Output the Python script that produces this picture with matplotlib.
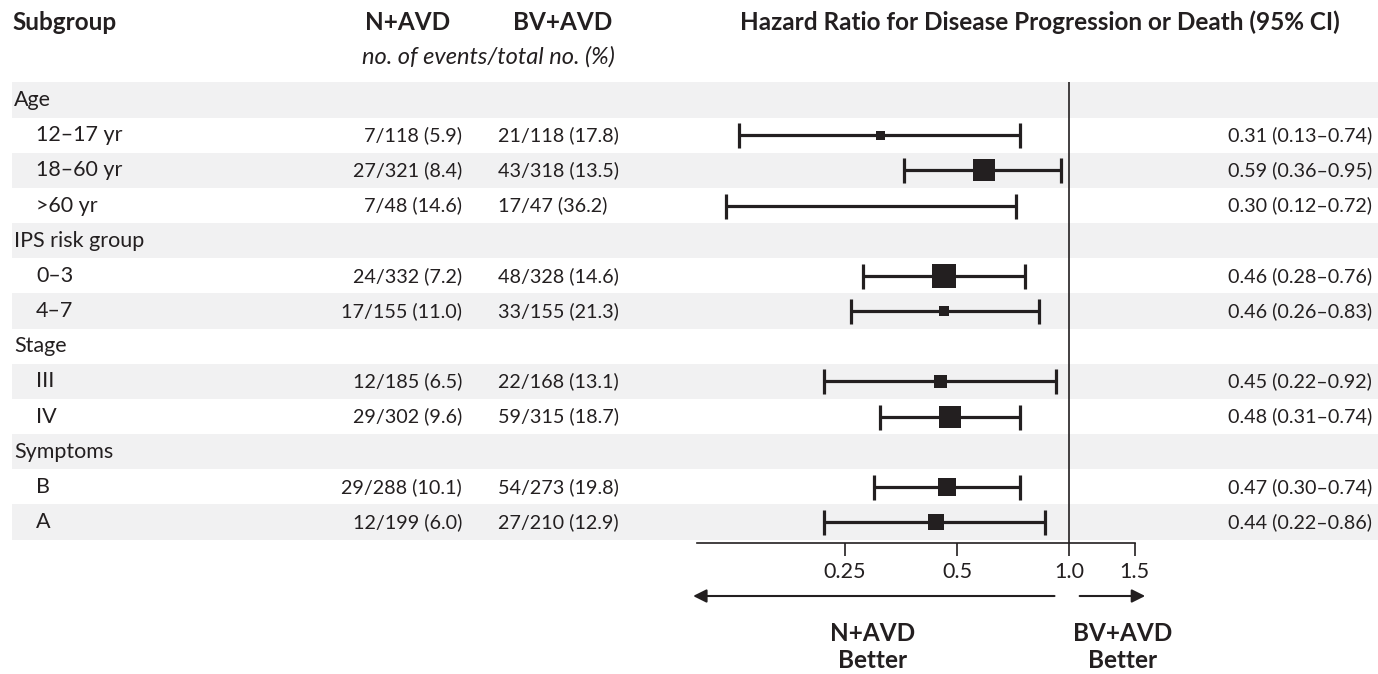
import matplotlib
matplotlib.use("Agg")
import matplotlib.pyplot as plt
import numpy as np

# rows of the table (None = group header row)
labels = ["Age", "12\u201317 yr", "18\u201360 yr", ">60 yr", "IPS risk group", "0\u20133", "4\u20137",
          "Stage", "III", "IV", "Symptoms", "B", "A"]
is_group = [True, False, False, False, True, False, False, True, False, False, True, False, False]

n_events = [None, 7, 27, 7, None, 24, 17, None, 12, 29, None, 29, 12]
n_total = [None, 118, 321, 48, None, 332, 155, None, 185, 302, None, 288, 199]
n_pct = [None, 5.9, 8.4, 14.6, None, 7.2, 11.0, None, 6.5, 9.6, None, 10.1, 6.0]

bv_events = [None, 21, 43, 17, None, 48, 33, None, 22, 59, None, 54, 27]
bv_total = [None, 118, 318, 47, None, 328, 155, None, 168, 315, None, 273, 210]
bv_pct = [None, 17.8, 13.5, 36.2, None, 14.6, 21.3, None, 13.1, 18.7, None, 19.8, 12.9]

hr = [None, 0.31, 0.59, 0.30, None, 0.46, 0.46, None, 0.45, 0.48, None, 0.47, 0.44]
ci_lo = [None, 0.13, 0.36, 0.12, None, 0.28, 0.26, None, 0.22, 0.31, None, 0.30, 0.22]
ci_hi = [None, 0.74, 0.95, 0.72, None, 0.76, 0.83, None, 0.92, 0.74, None, 0.74, 0.86]
box_px = [None, 9, 22, 3, None, 24, 10, None, 13, 22, None, 18, 16]

ticks = [0.25, 0.5, 1.0, 1.5]
tick_labels = ["0.25", "0.5", "1.0", "1.5"]

W, H = 1378, 674
ink = "#231f20"
shade = "#f1f1f2"
plt.rcParams['font.family'] = ['Lato', 'DejaVu Sans']

fig = plt.figure(figsize=(W / 100, H / 100), dpi=100)

# background axes in pixel units, for the table text and shading
bg = fig.add_axes([0, 0, 1, 1])
bg.set_xlim(0, W)
bg.set_ylim(H, 0)
bg.axis('off')

row0, rowh = 100, 35.17
fs = 14.2      # numbers
fsl = 15.5     # row labels
fsh = 17.5     # bold headers

for i, lab in enumerate(labels):
    yc = row0 + i * rowh
    if i % 2 == 0:
        bg.add_patch(plt.Rectangle((12, yc - rowh / 2), W - 12, rowh, color=shade, lw=0, zorder=0))
    bg.text(14 if is_group[i] else 36, yc, lab, fontsize=fsl, color=ink, va='center', ha='left')
    if not is_group[i]:
        bg.text(462, yc, f"{n_events[i]}/{n_total[i]} ({n_pct[i]:.1f})", fontsize=fs, color=ink,
                va='center', ha='right')
        bg.text(498, yc, f"{bv_events[i]}/{bv_total[i]} ({bv_pct[i]:.1f})", fontsize=fs, color=ink,
                va='center', ha='left')
        bg.text(1372, yc, f"{hr[i]:.2f} ({ci_lo[i]:.2f}\u2013{ci_hi[i]:.2f})", fontsize=fs, color=ink,
                va='center', ha='right')

bg.text(12, 22, "Subgroup", fontsize=fsh, fontweight='bold', color=ink, va='center', ha='left')
bg.text(408, 22, "N+AVD", fontsize=fsh, fontweight='bold', color=ink, va='center', ha='center')
bg.text(563, 22, "BV+AVD", fontsize=fsh, fontweight='bold', color=ink, va='center', ha='center')
bg.text(488, 57, "no. of events/total no. (%)", fontsize=17, style='italic', color=ink,
        va='center', ha='center')
bg.text(1040, 22, "Hazard Ratio for Disease Progression or Death (95% CI)", fontsize=fsh,
        fontweight='bold', color=ink, va='center', ha='center')

# forest axes
x_lo, x_hi = 0.1, 1.5
px_per_dbl = 112
x1 = 1069
left_px = x1 - px_per_dbl * np.log2(1 / x_lo)
right_px = x1 + px_per_dbl * np.log2(x_hi)
top_px, bot_px = 82, 543
ax = fig.add_axes([left_px / W, 1 - bot_px / H, (right_px - left_px) / W, (bot_px - top_px) / H])
ax.patch.set_alpha(0)
ax.set_xscale('log')
ax.set_xlim(x_lo, x_hi)
ax.set_ylim((bot_px - row0) / rowh, (top_px - row0) / rowh)
for s in ['top', 'right', 'left']:
    ax.spines[s].set_visible(False)
ax.spines['bottom'].set_linewidth(1.2)
ax.spines['bottom'].set_color(ink)
ax.set_yticks([])
ax.set_xticks(ticks)
ax.set_xticklabels(tick_labels)
ax.xaxis.set_minor_locator(matplotlib.ticker.NullLocator())
ax.tick_params(axis='x', direction='out', length=9, width=1.2, color=ink, labelcolor=ink,
               labelsize=15.5, pad=5)

ax.axvline(1.0, color=ink, lw=1.2, zorder=1)

for i in range(len(labels)):
    if hr[i] is None:
        continue
    ax.errorbar(hr[i], i, xerr=[[hr[i] - ci_lo[i]], [ci_hi[i] - hr[i]]], fmt='none',
                ecolor=ink, elinewidth=2.3, capsize=9, capthick=2.3, zorder=3)
    ax.plot(hr[i], i, marker='s', ms=box_px[i] * 0.72, color=ink, mec=ink, mew=0, zorder=4)

# arrows under the axis
tr = ax.get_xaxis_transform()
arr_y = (bot_px - 596) / (bot_px - top_px)
ax.annotate("", xy=(0.096, arr_y), xytext=(0.93, arr_y), xycoords=tr, textcoords=tr,
            arrowprops=dict(arrowstyle='-|>', color=ink, lw=1.5, mutation_scale=20), annotation_clip=False)
ax.annotate("", xy=(1.63, arr_y), xytext=(1.05, arr_y), xycoords=tr, textcoords=tr,
            arrowprops=dict(arrowstyle='-|>', color=ink, lw=1.5, mutation_scale=20), annotation_clip=False)

bg.text(873, 647, "N+AVD\nBetter", fontsize=fsh, fontweight='bold', color=ink, ha='center',
        va='center', linespacing=1.2)
bg.text(1123, 647, "BV+AVD\nBetter", fontsize=fsh, fontweight='bold', color=ink, ha='center',
        va='center', linespacing=1.2)

fig.savefig("out.png", dpi=100)
